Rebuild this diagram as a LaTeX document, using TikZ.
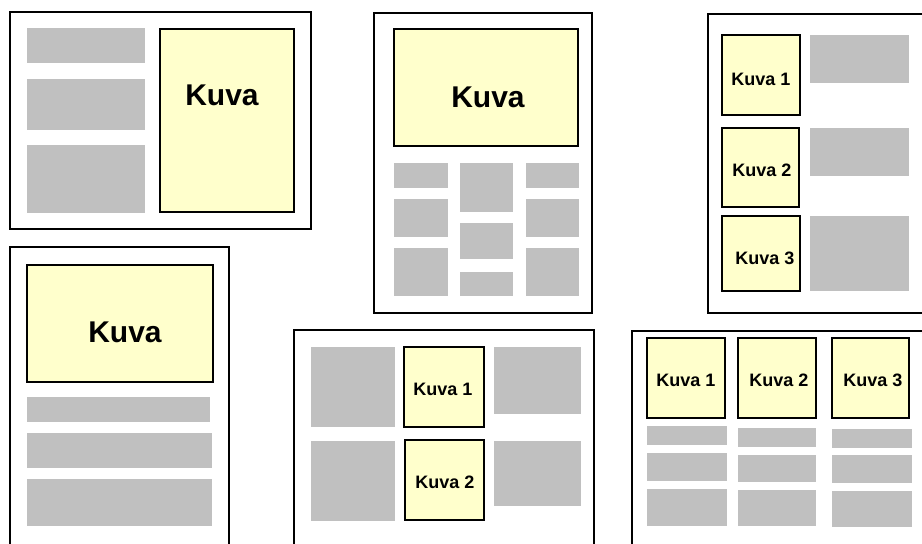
\documentclass[tikz,border=0pt]{standalone}
\usepackage{fontspec}
\setmainfont{Liberation Sans}
\begin{document}
\begin{tikzpicture}[x=1pt,y=-1pt,
  frame/.style={draw=black,line width=2.2pt,fill=white},
  blk/.style={fill=graybox,draw=none},
  pic/.style={fill=picyellow,draw=black,line width=1.3pt},
  bigtxt/.style={font=\bfseries\fontsize{30}{36}\selectfont,inner sep=0pt},
  smalltxt/.style={font=\bfseries\fontsize{18}{22}\selectfont,inner sep=0pt}]
\definecolor{graybox}{HTML}{C0C0C0}
\definecolor{picyellow}{HTML}{FFFFCC}
\useasboundingbox (0,0) rectangle (922,544);
\clip (0,0) rectangle (922,544);
% Panel 1
\draw[frame] (10,12) rectangle (311,229);
\fill[blk] (27,28) rectangle (145,63);
\fill[blk] (27,79) rectangle (145,130);
\fill[blk] (27,145) rectangle (145,213);
\draw[pic] (160,29) rectangle (294,212);
\node[bigtxt] (k1) at (222,95) {Kuva};
% Panel 2
\draw[frame] (374,13) rectangle (592,313);
\draw[pic] (394,29) rectangle (578,146);
\node[bigtxt] (k2) at (488,97) {Kuva};
\fill[blk] (394,163) rectangle (448,188);
\fill[blk] (394,199) rectangle (448,237);
\fill[blk] (394,248) rectangle (448,296);
\fill[blk] (460,163) rectangle (513,212);
\fill[blk] (460,223) rectangle (513,259);
\fill[blk] (460,272) rectangle (513,296);
\fill[blk] (526,163) rectangle (579,188);
\fill[blk] (526,199) rectangle (579,237);
\fill[blk] (526,248) rectangle (579,296);
% Panel 3
\draw[frame] (708,14) rectangle (935,313);
\draw[pic] (722,35) rectangle (800,115);
\draw[pic] (722,128) rectangle (799,207);
\draw[pic] (722,216) rectangle (800,291);
\node[smalltxt] (k31) at (761,79) {Kuva 1};
\node[smalltxt] (k32) at (762,170) {Kuva 2};
\node[smalltxt] (k33) at (765,258) {Kuva 3};
\fill[blk] (810,35) rectangle (909,83);
\fill[blk] (810,128) rectangle (909,176);
\fill[blk] (810,216) rectangle (909,291);
% Panel 4
\draw[frame] (10,247) rectangle (229,560);
\draw[pic] (27,265) rectangle (213,382);
\node[bigtxt] (k4) at (125,332) {Kuva};
\fill[blk] (27,397) rectangle (210,422);
\fill[blk] (27,433) rectangle (212,468);
\fill[blk] (27,479) rectangle (212,526);
% Panel 5
\draw[frame] (294,330) rectangle (594,560);
\fill[blk] (311,347) rectangle (395,427);
\draw[pic] (404,347) rectangle (484,427);
\fill[blk] (494,347) rectangle (581,414);
\fill[blk] (311,441) rectangle (395,521);
\draw[pic] (405,440) rectangle (484,520);
\fill[blk] (494,441) rectangle (581,506);
\node[smalltxt] (k51) at (443,389) {Kuva 1};
\node[smalltxt] (k52) at (445,482) {Kuva 2};
% Panel 6
\draw[frame] (632,331) rectangle (935,560);
\draw[pic] (647,338) rectangle (725,418);
\draw[pic] (738,338) rectangle (816,418);
\draw[pic] (832,338) rectangle (909,418);
\node[smalltxt] (k61) at (686,380) {Kuva 1};
\node[smalltxt] (k62) at (779,380) {Kuva 2};
\node[smalltxt] (k63) at (873,380) {Kuva 3};
\fill[blk] (647,426) rectangle (727,445);
\fill[blk] (647,453) rectangle (727,481);
\fill[blk] (647,489) rectangle (727,526);
\fill[blk] (738,428) rectangle (816,447);
\fill[blk] (738,455) rectangle (816,482);
\fill[blk] (738,490) rectangle (816,526);
\fill[blk] (832,429) rectangle (912,448);
\fill[blk] (832,455) rectangle (912,483);
\fill[blk] (832,491) rectangle (912,527);
\end{tikzpicture}
\end{document}
